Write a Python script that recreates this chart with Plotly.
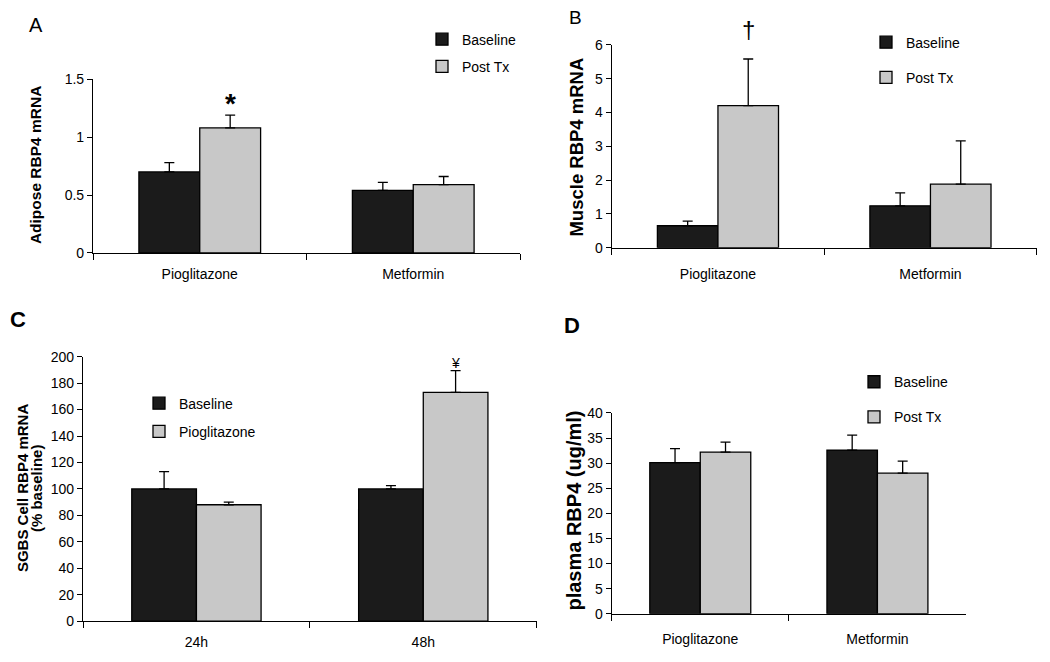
import plotly.graph_objects as go

# ---------------- data ----------------
groups_ab = ["Pioglitazone", "Metformin"]
groups_c = ["24h", "48h"]

# Panel A: Adipose RBP4 mRNA
a_base = [0.70, 0.54]
a_base_err = [0.08, 0.07]
a_post = [1.08, 0.59]
a_post_err = [0.11, 0.07]

# Panel B: Muscle RBP4 mRNA
b_base = [0.65, 1.24]
b_base_err = [0.14, 0.38]
b_post = [4.20, 1.88]
b_post_err = [1.38, 1.28]

# Panel C: SGBS cell RBP4 mRNA (% baseline)
c_base = [100, 100]
c_base_err = [13, 2.5]
c_pio = [88, 173]
c_pio_err = [2, 16.5]

# Panel D: plasma RBP4 (ug/ml)
d_base = [30.1, 32.6]
d_base_err = [2.8, 3.0]
d_post = [32.2, 28.0]
d_post_err = [2.0, 2.4]

# ---------------- style ----------------
W, H = 1050, 662
NARROW = "Liberation Sans, Arial, sans-serif"
SANS = "Liberation Sans, Arial, sans-serif"
DARK = "#1b1b1b"
LIGHT = "#c8c8c8"
BARGAP = 0.43
TICK = 14


def px_x(x):
    return x / W


def px_y(y):
    return 1 - y / H


fig = go.Figure()


def add_pair(xa, ya, cats, v1, e1, n1, v2, e2, n2, legend, tag):
    for vals, errs, name, col in ((v1, e1, n1, DARK), (v2, e2, n2, LIGHT)):
        fig.add_trace(go.Bar(
            x=cats, y=vals, name=name, xaxis=xa, yaxis=ya,
            marker=dict(color=col, line=dict(color="black", width=1.3)),
            error_y=dict(type="data", symmetric=False, array=errs,
                         arrayminus=[0] * len(errs), color="black",
                         thickness=1.3, width=5),
            legend=legend, legendgroup=tag + name, showlegend=True,
            hoverinfo="skip",
        ))


add_pair("x", "y", groups_ab, a_base, a_base_err, "Baseline", a_post, a_post_err, "Post Tx", "legend", "A")
add_pair("x2", "y2", groups_ab, b_base, b_base_err, "Baseline", b_post, b_post_err, "Post Tx", "legend2", "B")
add_pair("x3", "y3", groups_c, c_base, c_base_err, "Baseline", c_pio, c_pio_err, "Pioglitazone", "legend3", "C")
add_pair("x4", "y4", groups_ab, d_base, d_base_err, "Baseline", d_post, d_post_err, "Post Tx", "legend4", "D")

# axis domains in pixel space
panels = {
    "1": dict(x=(93, 520), y=(73, 251), rng=(0, 1.5), dtick=0.5, stand=8),
    "2": dict(x=(611.7, 1036.7), y=(37.7, 245.7), rng=(0, 6), dtick=1, stand=13),
    "3": dict(x=(83, 536.7), y=(357.3, 628.3), rng=(0, 200), dtick=20, stand=8),
    "4": dict(x=(611.7, 966), y=(415, 620.7), rng=(0, 40), dtick=5, stand=12),
}

layout_axes = {}
for k, p in panels.items():
    sfx = "" if k == "1" else k
    layout_axes["xaxis" + sfx] = dict(
        domain=[px_x(p["x"][0]), px_x(p["x"][1])],
        anchor="y" + sfx, type="category",
        showline=True, linecolor="black", linewidth=1.2,
        ticks="outside", ticklen=6, tickcolor="black", tickwidth=1.2,
        tickson="boundaries", showgrid=False, zeroline=False,
        tickfont=dict(family=NARROW, size=TICK, color="black"),
        ticklabelstandoff=p["stand"], fixedrange=True,
    )
    layout_axes["yaxis" + sfx] = dict(
        domain=[px_y(p["y"][1]), px_y(p["y"][0])],
        anchor="x" + sfx, range=list(p["rng"]), dtick=p["dtick"],
        showline=True, linecolor="black", linewidth=1.2,
        ticks="outside", ticklen=5, tickcolor="black", tickwidth=1.2,
        showgrid=False, zeroline=False,
        tickfont=dict(family=NARROW, size=TICK, color="black"),
        fixedrange=True,
    )


def legend_box(left, top, gap):
    return dict(
        x=px_x(left), y=px_y(top), xanchor="left", yanchor="top",
        font=dict(family=NARROW, size=TICK, color="black"),
        bgcolor="rgba(0,0,0,0)", borderwidth=0,
        traceorder="grouped", tracegroupgap=gap,
    )


annotations = []


def txt(x, y, text, size, bold=False, angle=0, family=SANS):
    annotations.append(dict(
        x=px_x(x), y=px_y(y), xref="paper", yref="paper",
        text=("<b>%s</b>" % text) if bold else text, showarrow=False,
        textangle=angle, xanchor="center", yanchor="middle",
        font=dict(family=family, size=size, color="black"),
    ))


# y axis titles
txt(35, 161, "Adipose RBP4 mRNA", 15.5, bold=True, angle=-90)
txt(577, 143, "Muscle RBP4 mRNA", 18.5, bold=True, angle=-90)
txt(22, 492, "SGBS Cell RBP4 mRNA", 15, bold=True, angle=-90)
txt(36, 492, "(% baseline)", 15, bold=True, angle=-90)
txt(574, 515, "plasma RBP4 (ug/ml)", 20, bold=True, angle=-90)

# panel letters
txt(36, 17, "A", 20)
txt(575, 10, "B", 19)
txt(18, 319, "C", 22, bold=True)
txt(572, 325, "D", 22, bold=True)

# significance marks placed over the treated bar
off = (1 - BARGAP) / 4
for xa, ya, xi, top, mark, size, shift in (
    ("x", "y", 0, a_post[0] + a_post_err[0], "<b>*</b>", 28, -6),
    ("x2", "y2", 0, b_post[0] + b_post_err[0], "†", 24, 14),
    ("x3", "y3", 1, c_pio[1] + c_pio_err[1], "¥", 14, -2),
):
    annotations.append(dict(
        x=xi + off, y=top, xref=xa, yref=ya, text=mark, showarrow=False,
        xanchor="center", yanchor="bottom", yshift=shift,
        font=dict(family=SANS, size=size, color="black"),
    ))

fig.update_layout(
    width=W, height=H, autosize=False,
    margin=dict(l=0, r=0, t=0, b=0),
    paper_bgcolor="white", plot_bgcolor="white",
    barmode="group", bargap=BARGAP, bargroupgap=0,
    legend=legend_box(422, 16, 6),
    legend2=legend_box(866, 19, 14),
    legend3=legend_box(139, 389, 7),
    legend4=legend_box(854, 367, 14),
    annotations=annotations,
    **layout_axes,
)

# remove the default page margin so the figure fills the window exactly
fig.write_html("out.html", config={"displayModeBar": False},
               post_script="document.body.style.margin='0px';")
